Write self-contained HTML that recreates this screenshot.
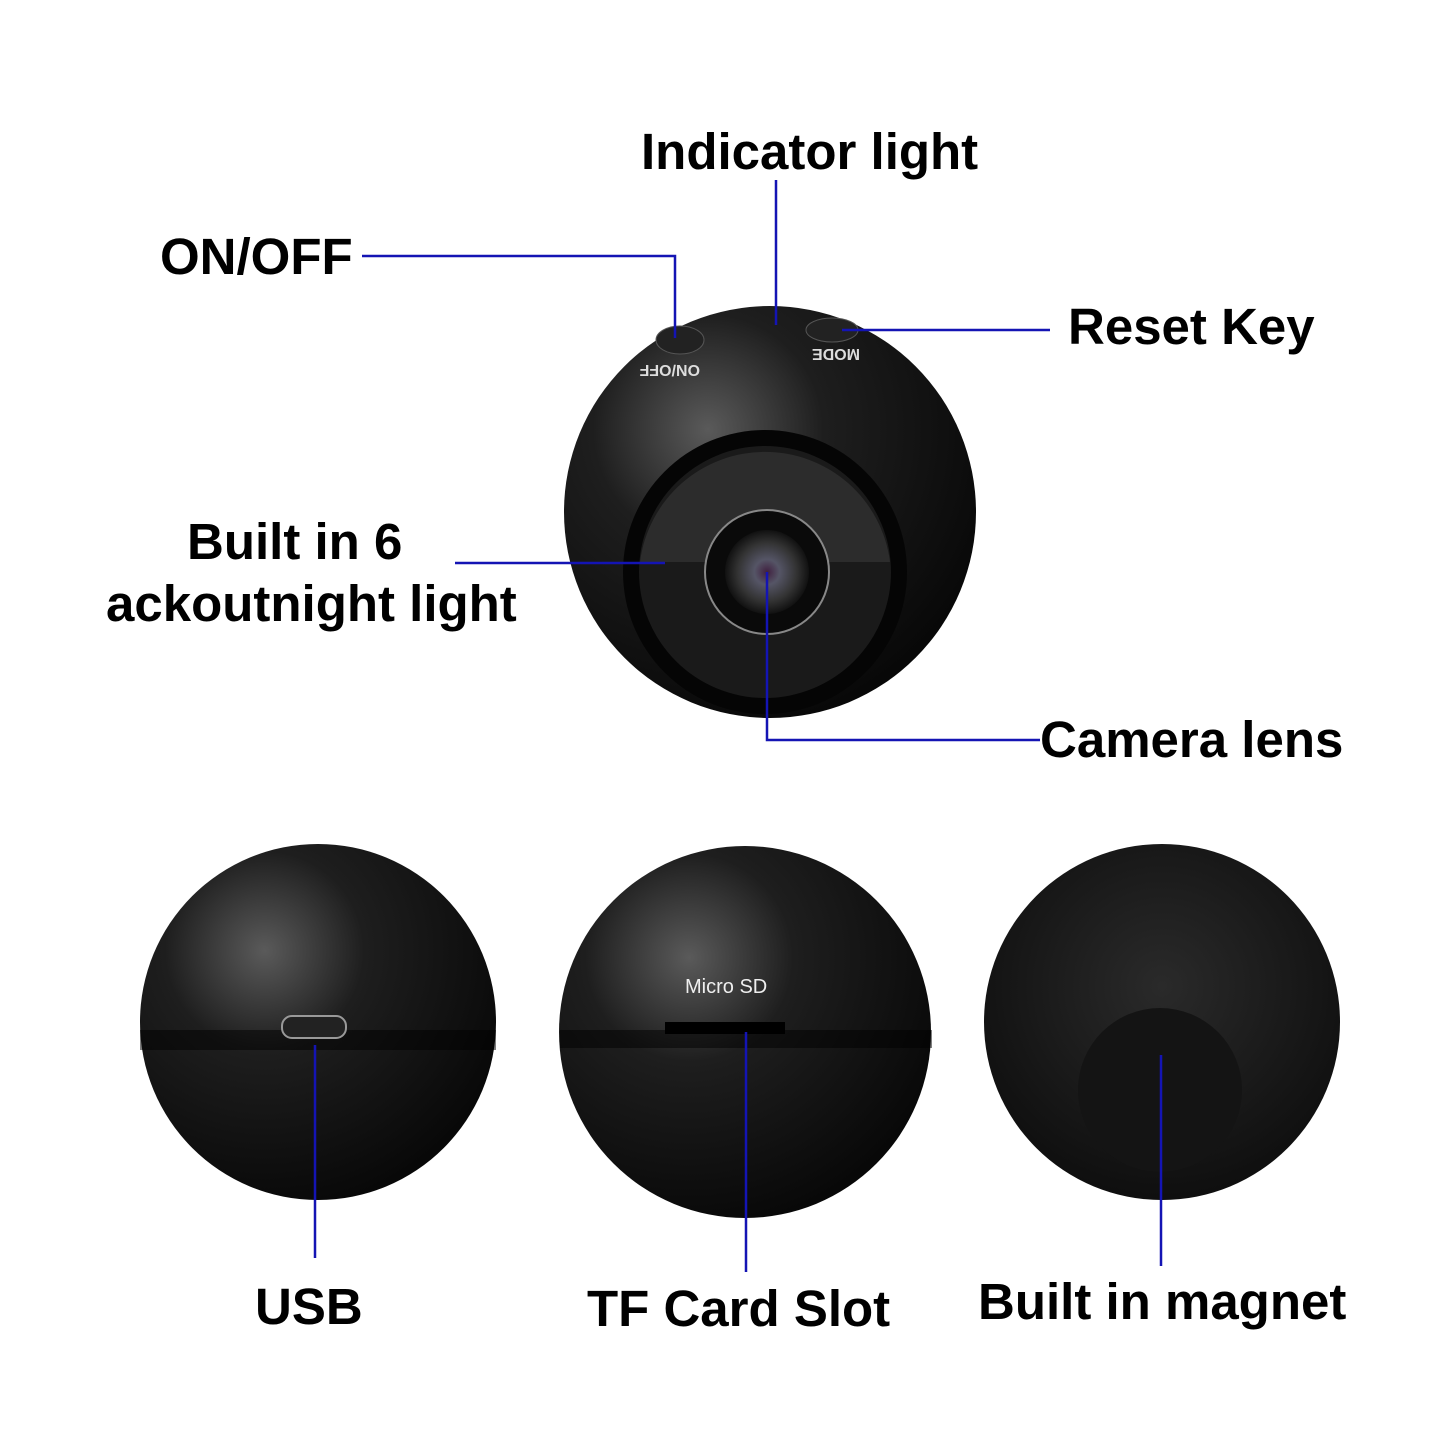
<!DOCTYPE html>
<html><head><style>
body{margin:0;background:#fff;}
.t{position:absolute;font-family:"Liberation Sans",sans-serif;font-weight:bold;color:#000;font-size:51px;white-space:nowrap;line-height:1;}
</style></head><body>
<div style="position:relative;width:1445px;height:1445px;overflow:hidden">
<svg width="1445" height="1445" style="position:absolute;left:0;top:0">
<defs>
<radialGradient id="g1" cx="0.35" cy="0.3" r="0.8">
<stop offset="0" stop-color="#5a5a5a"/><stop offset="0.35" stop-color="#1e1e1e"/><stop offset="1" stop-color="#050505"/>
</radialGradient>
<radialGradient id="g2" cx="0.5" cy="0.4" r="0.7">
<stop offset="0" stop-color="#2a2a2a"/><stop offset="1" stop-color="#0a0a0a"/>
</radialGradient>
<radialGradient id="lens" cx="0.5" cy="0.5" r="0.5">
<stop offset="0" stop-color="#402040"/><stop offset="0.3" stop-color="#556"/><stop offset="0.7" stop-color="#333"/><stop offset="1" stop-color="#111"/>
</radialGradient>
</defs>
<circle cx="770" cy="512" r="206" fill="url(#g1)"/>
<circle cx="765" cy="572" r="142" fill="#050505"/>
<circle cx="765" cy="572" r="126" fill="#1a1a1a"/>
<path d="M640 562 A126 126 0 0 1 890 562 Z" fill="#2c2c2c"/>
<circle cx="767" cy="572" r="62" fill="#0a0a0a" stroke="#888" stroke-width="2"/>
<circle cx="767" cy="572" r="42" fill="url(#lens)"/>
<ellipse cx="680" cy="340" rx="24" ry="14" fill="#222" stroke="#555"/>
<ellipse cx="832" cy="330" rx="26" ry="12" fill="#222" stroke="#555"/>
<text x="680" y="365" font-family="Liberation Sans" font-weight="bold" font-size="16" fill="#ddd" transform="rotate(180 690 365)">ON/OFF</text>
<text x="800" y="355" font-family="Liberation Sans" font-weight="bold" font-size="16" fill="#ddd" transform="rotate(180 830 352)">MODE</text>
<circle cx="318" cy="1022" r="178" fill="url(#g1)"/>
<rect x="140" y="1030" width="356" height="20" fill="#000" opacity="0.5"/>
<rect x="282" y="1016" width="64" height="22" rx="10" fill="#222" stroke="#999" stroke-width="2"/>
<circle cx="745" cy="1032" r="186" fill="url(#g1)"/>
<rect x="560" y="1030" width="372" height="18" fill="#000" opacity="0.5"/>
<rect x="665" y="1022" width="120" height="12" fill="#000"/>
<text x="685" y="993" font-family="Liberation Sans" font-size="20" fill="#eee">Micro SD</text>
<circle cx="1162" cy="1022" r="178" fill="url(#g2)"/>
<circle cx="1160" cy="1090" r="82" fill="#141414"/>
<g stroke="#1414b4" stroke-width="2.5" fill="none">
<polyline points="362,256 675,256 675,338"/>
<line x1="776" y1="180" x2="776" y2="325"/>
<line x1="842" y1="330" x2="1050" y2="330"/>
<line x1="455" y1="563" x2="665" y2="563"/>
<polyline points="767,572 767,740 1040,740"/>
<line x1="315" y1="1045" x2="315" y2="1258"/>
<line x1="746" y1="1032" x2="746" y2="1272"/>
<line x1="1161" y1="1055" x2="1161" y2="1266"/>
</g>
</svg>
<div class="t" style="left:641px;top:126px">Indicator light</div>
<div class="t" style="left:160px;top:231px">ON/OFF</div>
<div class="t" style="left:1068px;top:301px">Reset Key</div>
<div class="t" style="left:187px;top:516px">Built in 6</div>
<div class="t" style="left:106px;top:578px">ackoutnight light</div>
<div class="t" style="left:1040px;top:714px">Camera lens</div>
<div class="t" style="left:255px;top:1281px">USB</div>
<div class="t" style="left:587px;top:1283px">TF Card Slot</div>
<div class="t" style="left:978px;top:1276px">Built in magnet</div>
</div>
</body></html>
